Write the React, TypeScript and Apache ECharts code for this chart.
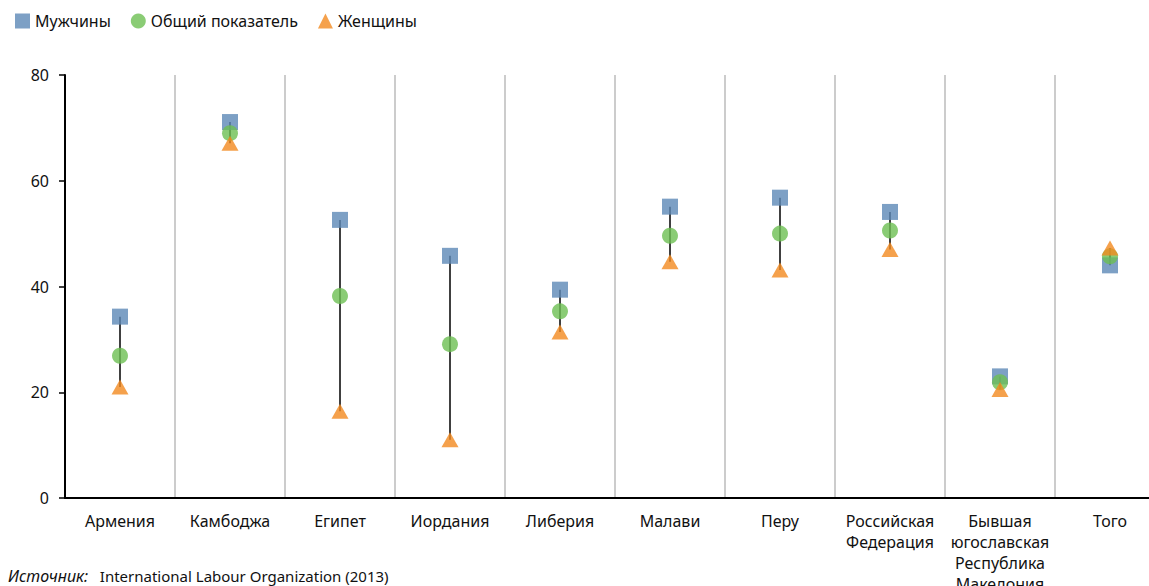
import React, { useEffect, useRef } from "react";
import * as echarts from "echarts";

const categories = [
  "Армения",
  "Камбоджа",
  "Египет",
  "Иордания",
  "Либерия",
  "Малави",
  "Перу",
  "Российская\nФедерация",
  "Бывшая\nюгославская\nРеспублика\nМакедония",
  "Того",
];
const men = [34.3, 71.1, 52.6, 45.8, 39.4, 55.1, 56.8, 54.1, 23.0, 44.0];
const total = [26.9, 69.0, 38.2, 29.1, 35.3, 49.6, 50.0, 50.6, 21.9, 45.7];
const women = [21.0, 67.1, 16.4, 11.0, 31.4, 44.7, 43.1, 47.0, 20.5, 47.3];
const yTicks = [0, 20, 40, 60, 80];

const seriesNames = ["Мужчины", "Общий показатель", "Женщины"];
const FONT = "'Noto Sans', 'Open Sans', sans-serif";

export default function App() {
  const ref = useRef<HTMLDivElement>(null);
  useEffect(() => {
    if (!ref.current) return;
    const chart = echarts.init(ref.current, null, { renderer: "svg" });
    const ranges = categories.map((_, i) => [
      i,
      Math.min(men[i], total[i], women[i]),
      Math.max(men[i], total[i], women[i]),
    ]);
    chart.setOption({
      animation: false,
      textStyle: { fontFamily: FONT },
      legend: {
        left: 10,
        top: 8,
        itemWidth: 15,
        itemHeight: 15,
        itemGap: 20,
        data: seriesNames,
        textStyle: { fontSize: 16, color: "#111", fontFamily: FONT },
      },
      grid: {
        left: 65,
        top: 75,
        width: 1100,
        height: 423,
        outerBoundsMode: "none",
        containLabel: false,
      },
      xAxis: {
        type: "category",
        data: categories,
        boundaryGap: true,
        axisLine: { lineStyle: { color: "#000", width: 2 } },
        axisTick: { show: false },
        splitLine: { show: true, interval: 0, lineStyle: { color: "#bbb", width: 1.5 } },
        axisLabel: {
          interval: 0,
          fontSize: 16,
          lineHeight: 21,
          margin: 12,
          color: "#111",
          fontFamily: FONT,
        },
      },
      yAxis: {
        type: "value",
        min: yTicks[0],
        max: yTicks[yTicks.length - 1],
        interval: 20,
        axisLine: { show: true, lineStyle: { color: "#000", width: 2 } },
        axisTick: { show: true, length: 6, lineStyle: { color: "#000", width: 1.5 } },
        splitLine: { show: false },
        axisLabel: { fontSize: 16, color: "#111", margin: 16, fontFamily: FONT },
      },
      series: [
        {
          type: "custom",
          name: "range",
          data: ranges,
          z: 1,
          renderItem: (params: any, api: any) => {
            const lo = api.coord([api.value(0), api.value(1)]);
            const hi = api.coord([api.value(0), api.value(2)]);
            return {
              type: "line",
              shape: { x1: lo[0], y1: lo[1], x2: hi[0], y2: hi[1] },
              style: { stroke: "#404040", lineWidth: 2 },
            };
          },
          silent: true,
        },
        {
          type: "scatter",
          name: seriesNames[0],
          data: men,
          symbol: "rect",
          symbolSize: 16,
          itemStyle: { color: "#5d88b6" },
          z: 2,
        },
        {
          type: "scatter",
          name: seriesNames[1],
          data: total,
          symbol: "circle",
          symbolSize: 16,
          itemStyle: { color: "#6dbf53" },
          z: 3,
        },
        {
          type: "scatter",
          name: seriesNames[2],
          data: women,
          symbol: "triangle",
          symbolSize: [17, 15],
          itemStyle: { color: "#f28a1f" },
          z: 4,
        },
      ],
      graphic: [
        {
          type: "text",
          left: 8,
          top: 568,
          style: {
            text: "{i|Источник:}   International Labour Organization (2013)",
            fontSize: 15,
            fill: "#111",
            fontFamily: FONT,
            rich: {
              i: { fontStyle: "italic", fontSize: 16, fill: "#111", fontFamily: FONT },
            },
          },
        },
      ],
    });
    return () => chart.dispose();
  }, []);
  return (
    <div
      style={{ position: "absolute", left: 0, top: 0, width: 1149, height: 586, overflow: "hidden" }}
    >
      <div ref={ref} style={{ width: 1149, height: 586 }} />
    </div>
  );
}
